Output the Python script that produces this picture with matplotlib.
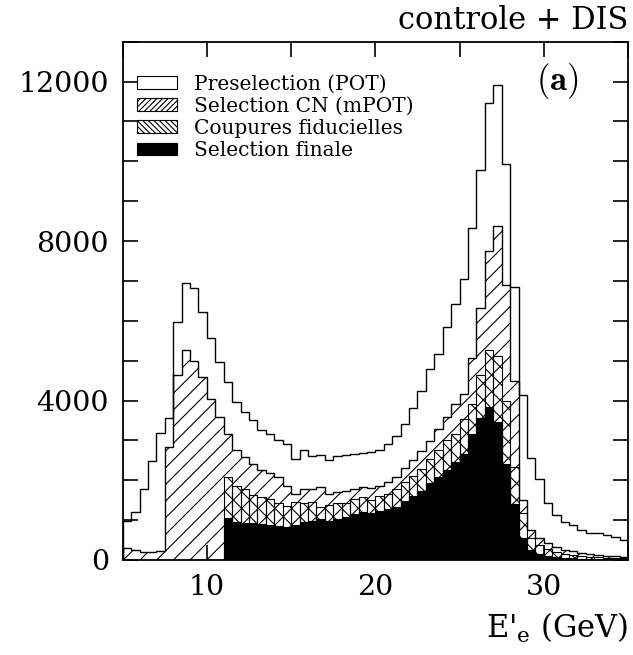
import numpy as np
import matplotlib
matplotlib.use("Agg")
import matplotlib.pyplot as plt
from matplotlib.patches import Patch
from matplotlib.ticker import MultipleLocator

# ---- data (E'_e bins of 0.5 GeV from 5 to 35 GeV) ----
e_lo = 5.0
e_hi = 35.0
bin_w = 0.5

presel = [975, 1210, 1770, 2480, 3190, 3570, 5980, 6960, 6830, 6230,
          5580, 4960, 4460, 3960, 3710, 3500, 3250, 3170, 3020, 2900,
          2530, 2750, 2600, 2630, 2500, 2600, 2630, 2670, 2690, 2710,
          2760, 2900, 3100, 3400, 3800, 4250, 4780, 5170, 5850, 6420,
          7060, 8330, 9790, 11460, 11920, 9930, 6850, 4150, 2550, 2040,
          1420, 1130, 960, 880, 750, 670, 670, 630, 580, 500]

sel_cn = [290, 260, 200, 200, 230, 2830, 4630, 5270, 5000, 4600,
          4030, 3580, 3170, 2750, 2580, 2400, 2250, 2180, 2070, 1850,
          1650, 1790, 1770, 1820, 1650, 1710, 1730, 1790, 1820, 1800,
          1850, 1950, 2070, 2320, 2520, 2730, 2980, 3280, 3580, 3920,
          4170, 5060, 6310, 7740, 8370, 6890, 4500, 1500, 750, 550,
          420, 320, 260, 220, 180, 150, 130, 110, 90, 70]

coupures = [0, 0, 0, 0, 0, 0, 0, 0, 0, 0,
            0, 0, 2070, 1850, 1770, 1630, 1580, 1520, 1420, 1350,
            1460, 1420, 1460, 1330, 1380, 1420, 1420, 1540, 1580, 1500,
            1600, 1650, 1790, 1960, 2100, 2290, 2540, 2750, 3000, 3170,
            3540, 3920, 4630, 5260, 5120, 4000, 2330, 1170, 550, 380,
            280, 200, 160, 130, 100, 80, 70, 60, 50, 40]

finale = [0, 0, 0, 0, 0, 0, 0, 0, 0, 0,
          0, 0, 1060, 960, 930, 920, 900, 880, 850, 830,
          880, 960, 980, 1040, 980, 1040, 1080, 1150, 1210, 1180,
          1230, 1270, 1330, 1480, 1600, 1730, 1920, 2070, 2250, 2460,
          2670, 3170, 3570, 3850, 3460, 2400, 1400, 550, 250, 150,
          100, 70, 50, 40, 30, 25, 20, 15, 10, 10]

labels = ["Preselection (POT)", "Selection CN (mPOT)",
          "Coupures fiducielles", "Selection finale"]

x_ticks = [10, 20, 30]
y_ticks = [0, 4000, 8000, 12000]

# ---- style ----
plt.rcParams['hatch.linewidth'] = 0.8
plt.rcParams['mathtext.fontset'] = 'custom'
plt.rcParams['mathtext.rm'] = 'DejaVu Serif'
plt.rcParams['mathtext.bf'] = 'DejaVu Serif:bold'

W, H = 633, 655
fig = plt.figure(figsize=(W / 100, H / 100), dpi=100)
ax = fig.add_axes([122.7 / W, 1 - 560 / H, (628 - 122.7) / W, (560 - 41.7) / H])

edges = np.arange(e_lo, e_hi + bin_w / 2, bin_w)
centers = edges[:-1] + bin_w / 2

ax.stairs(presel, edges, fill=True, facecolor='white', edgecolor='none', zorder=1)
ax.stairs(presel, edges, fill=False, color='black', linewidth=1.0, zorder=5)
ax.stairs(sel_cn, edges, fill=True, facecolor='none', edgecolor='black',
          hatch='//', linewidth=1.0, zorder=2)
ax.bar(centers, coupures, width=bin_w, fill=False, edgecolor='black',
       hatch='\\\\', linewidth=0.8, zorder=3)
ax.stairs(finale, edges, fill=True, facecolor='black', edgecolor='black',
          linewidth=0.8, zorder=4)

ax.set_xlim(e_lo, e_hi)
ax.set_ylim(0, 13000)
ax.set_xticks(x_ticks)
ax.xaxis.set_minor_locator(MultipleLocator(5))
ax.set_yticks(y_ticks)
ax.yaxis.set_minor_locator(MultipleLocator(1000))
ax.tick_params(which='both', direction='in', top=True, right=True,
               length=11, width=1.2)
ax.tick_params(axis='both', which='major', labelsize=20.5, pad=10)
for lab in ax.get_xticklabels() + ax.get_yticklabels():
    lab.set_family('DejaVu Serif')
for s in ax.spines.values():
    s.set_linewidth(1.3)
    s.set_zorder(10)

handles = [Patch(facecolor='white', edgecolor='black', linewidth=0.8),
           Patch(facecolor='white', edgecolor='black', hatch='//////', linewidth=0.8),
           Patch(facecolor='white', edgecolor='black', hatch='\\\\\\\\\\\\', linewidth=0.8),
           Patch(facecolor='black', edgecolor='black', linewidth=0.8)]
leg = ax.legend(handles, labels, loc='upper left', bbox_to_anchor=(0.029, 0.937),
                frameon=False, prop={'family': 'DejaVu Serif', 'size': 14.5},
                handlelength=1.95, handleheight=0.6, handletextpad=0.85,
                labelspacing=0.16, borderaxespad=0, borderpad=0)
leg.set_zorder(20)

ax.text(0.902, 0.924, r'$(\mathbf{a})$', transform=ax.transAxes, ha='right',
        va='center', fontsize=25, math_fontfamily='cm', zorder=20)

fig.text(628 / W, 1 - 29 / H, 'controle + DIS', ha='right', va='baseline',
         fontsize=22, family='DejaVu Serif')
fig.text(628 / W, 1 - 638 / H, r"E'$_{\mathrm{e}}$ (GeV)", ha='right', va='baseline',
         fontsize=22, family='DejaVu Serif', math_fontfamily='custom')

fig.savefig('out.png', dpi=100)
